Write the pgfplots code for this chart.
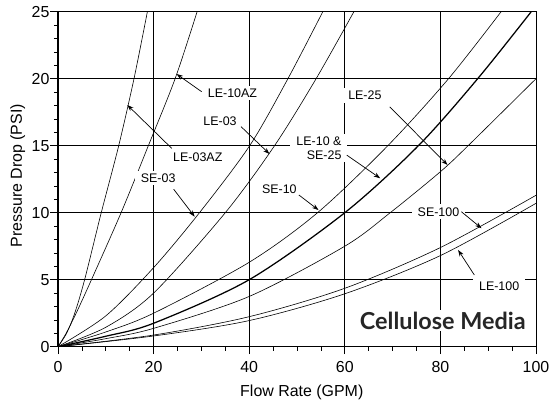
\documentclass[border=0pt]{standalone}
\usepackage{fontspec}
\setmainfont{Liberation Sans}
\newfontfamily\cellfont{Lato}
\usepackage{pgfplots}
\pgfplotsset{compat=1.18}
\usetikzlibrary{arrows.meta}

\tikzset{
  lbl/.style={fill=white, inner xsep=6bp, inner ysep=3bp, font=\fontsize{12.5}{14}\selectfont},
  arr/.style={-{Stealth[length=6.5bp,width=4.5bp]}, line width=0.7bp},
  crv/.style={black, line width=0.6bp, smooth},
}

\begin{document}
\begin{tikzpicture}
\begin{axis}[
    width=478bp, height=335bp, scale only axis,
    xmin=0, xmax=100, ymin=0, ymax=25,
    xtick={0,20,...,100}, ytick={0,5,...,25},
    minor x tick num=3, minor y tick num=4,
    tick align=outside, tick pos=left,
    major tick length=7.5bp, minor tick length=4bp,
    every tick/.style={black, line width=0.7bp},
    grid=major,
    major grid style={black, line width=0.7bp},
    axis line style={line width=1bp},
    /pgf/number format/assume math mode=true,
    tick label style={font=\fontsize{16}{16}\selectfont},
    xticklabel style={yshift=-4bp},
    yticklabel style={xshift=2.5bp},
    every axis x label/.style={at={(axis description cs:0.51,0)}, anchor=base, yshift=-50bp, font=\fontsize{16}{16}\selectfont},
    every axis y label/.style={at={(axis description cs:0,0.51)}, xshift=-36bp, rotate=90, anchor=base, font=\fontsize{16}{16}\selectfont},
    xlabel={Flow Rate (GPM)},
    ylabel={Pressure Drop (PSI)},
]
\coordinate (O) at (axis cs:0,0);

% LE-03AZ
\addplot[crv] coordinates {(0,0) (1.8,1) (3.5,2.5) (5.57,5) (9.05,10) (12.7,15) (15.9,20) (18.7,25)};
% LE-10AZ
\addplot[crv] coordinates {(0,0) (1.7,1) (3.8,2.5) (7,5) (13.2,10) (18.9,15) (24.5,20) (29.1,25)};
% SE-03
\addplot[crv] coordinates {(0,0) (10,2.3) (20,5.9) (29.6,10) (40.1,15) (48.1,20) (55.4,25)};
% LE-03
\addplot[crv] coordinates {(0,0) (10,1.45) (20,4.0) (35,10) (45.3,15) (54,20) (61.9,25)};
% SE-10
\addplot[crv] coordinates {(0,0) (10,1.1) (20,2.5) (40,6.3) (54.3,10) (69,15) (81.7,20) (92.7,25)};
% LE-10 & SE-25
\addplot[crv, line width=1.25bp] coordinates {(0,0) (10,0.78) (20,1.75) (40,5) (60,10) (75.4,15) (87.8,20) (99,25)};
% LE-25
\addplot[crv] coordinates {(0,0) (10,0.6) (20,1.37) (40,3.75) (60,7.5) (69.5,10) (80,13.06) (85.8,15) (100,20)};
% SE-100
\addplot[crv] coordinates {(0,0) (20,0.87) (40,2.24) (60,4.36) (80,7.4) (100,11.3)};
% LE-100
\addplot[crv] coordinates {(0,0) (20,0.8) (40,1.95) (60,3.95) (80,6.8) (100,10.7)};

\node[lbl] at (axis cs:36.5,18.93) {LE-10AZ};
\draw[arr] (axis cs:30.05,19.03) -- (axis cs:24.8,20.35);
\node[lbl] at (axis cs:29.25,14.12) {LE-03AZ};
\draw[arr] (axis cs:23.8,14.8) -- (axis cs:14.5,18.04);
\node[lbl] at (axis cs:33.9,16.84) {LE-03};
\draw[arr] (axis cs:38.3,16.42) -- (axis cs:44.25,14.38);
\node[lbl] at (axis cs:20.96,12.59) {SE-03};
\draw[arr] (axis cs:24.2,11.75) -- (axis cs:28.6,9.7);
\node[lbl] at (axis cs:46.3,11.77) {SE-10};
\draw[arr] (axis cs:50.4,11.32) -- (axis cs:54.5,10.2);
\node[lbl, anchor=east, align=right] at (axis cs:60.6,14.83) {LE-10 \&\\SE-25};
\draw[arr] (axis cs:60.4,14.3) -- (axis cs:67.4,12.57);
\node[lbl] at (axis cs:64.2,18.76) {LE-25};
\draw[arr] (axis cs:69.4,17.9) -- (axis cs:81.5,13.56);
\node[lbl] at (axis cs:79.6,10.07) {SE-100};
\draw[arr] (axis cs:84.4,10.07) -- (axis cs:88.6,8.84);
\node[lbl] at (axis cs:92.3,4.51) {LE-100};
\draw[arr] (axis cs:87.1,5.35) -- (axis cs:83.7,7.22);
\node[fill=white, inner xsep=3bp, inner ysep=2bp, text=black!85, font=\cellfont\bfseries\fontsize{23.5}{24}\selectfont] at (axis cs:80.5,1.95) {Cellulose Media};
\end{axis}
\pgfresetboundingbox
\path[use as bounding box] (O) ++(-58bp,-57.3bp) rectangle ++(549bp,404bp);
\end{tikzpicture}
\end{document}
